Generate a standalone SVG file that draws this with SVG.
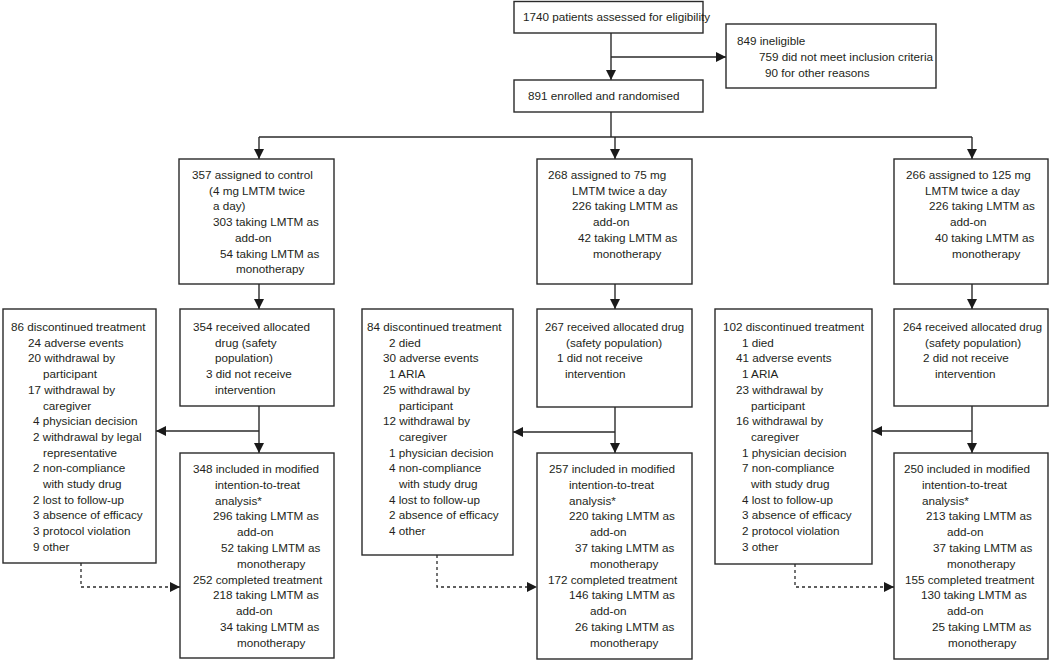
<svg xmlns="http://www.w3.org/2000/svg" width="1050" height="661" viewBox="0 0 1050 661">
<style>
.box{fill:#fff;stroke:#2a2a2a;stroke-width:1.4}
.ln{fill:none;stroke:#2a2a2a;stroke-width:1.4}
.dash{fill:none;stroke:#2a2a2a;stroke-width:1.3;stroke-dasharray:3,3}
text{font-family:"Liberation Sans",Arial,sans-serif;font-size:11.7px;fill:#231f20}
</style>
<defs>
<marker id="ah" viewBox="0 0 10 10" refX="10" refY="5" markerWidth="10" markerHeight="10" markerUnits="userSpaceOnUse" orient="auto">
<path d="M0,0 L10,5 L0,10 Z" fill="#1a1a1a"/>
</marker>
</defs>
<rect width="1050" height="661" fill="#fff"/>
<g id="connectors">
<line class="ln" x1="611" y1="33" x2="611" y2="80" marker-end="url(#ah)"/>
<line class="ln" x1="611" y1="57" x2="726" y2="57" marker-end="url(#ah)"/>
<line class="ln" x1="611" y1="112" x2="611" y2="137"/>
<line class="ln" x1="259" y1="137" x2="972" y2="137"/>
<line class="ln" x1="259" y1="137" x2="259" y2="159" marker-end="url(#ah)"/>
<line class="ln" x1="615" y1="137" x2="615" y2="159" marker-end="url(#ah)"/>
<line class="ln" x1="972" y1="137" x2="972" y2="159" marker-end="url(#ah)"/>
<line class="ln" x1="259" y1="284" x2="259" y2="309" marker-end="url(#ah)"/>
<line class="ln" x1="615" y1="284" x2="615" y2="309" marker-end="url(#ah)"/>
<line class="ln" x1="972" y1="284" x2="972" y2="309" marker-end="url(#ah)"/>
<line class="ln" x1="259" y1="406" x2="259" y2="453" marker-end="url(#ah)"/>
<line class="ln" x1="259" y1="431" x2="156" y2="431" marker-end="url(#ah)"/>
<line class="ln" x1="615" y1="407" x2="615" y2="453" marker-end="url(#ah)"/>
<line class="ln" x1="615" y1="432" x2="513" y2="432" marker-end="url(#ah)"/>
<line class="ln" x1="972" y1="406" x2="972" y2="453" marker-end="url(#ah)"/>
<line class="ln" x1="972" y1="431" x2="872" y2="431" marker-end="url(#ah)"/>
<polyline class="dash" points="81,563 81,587 180,587" marker-end="url(#ah)"/>
<polyline class="dash" points="437,555 437,587 537,587" marker-end="url(#ah)"/>
<polyline class="dash" points="795,564 795,587 894,587" marker-end="url(#ah)"/>
</g>
<g id="assessed">
<rect class="box" x="514" y="1.5" width="189" height="31.5"/>
<text x="523" y="21">1740 patients assessed for eligibility</text>
</g>
<g id="ineligible">
<rect class="box" x="726" y="24" width="210" height="64"/>
<text x="737" y="45">849 ineligible</text>
<text x="759" y="61">759 did not meet inclusion criteria</text>
<text x="765" y="76.5">90 for other reasons</text>
</g>
<g id="enrolled">
<rect class="box" x="514" y="80" width="189" height="32"/>
<text x="528" y="100">891 enrolled and randomised</text>
</g>
<g id="control">
<rect class="box" x="179" y="159" width="155" height="125"/>
<text x="192" y="179">357 assigned to control</text>
<text x="209" y="194.7">(4 mg LMTM twice</text>
<text x="213" y="210.4">a day)</text>
<text x="213" y="226.1">303 taking LMTM as</text>
<text x="235" y="241.8">add-on</text>
<text x="220" y="257.5">54 taking LMTM as</text>
<text x="236" y="273.2">monotherapy</text>
</g>
<g id="dose75">
<rect class="box" x="537" y="159" width="155" height="125"/>
<text x="548" y="179">268 assigned to 75 mg</text>
<text x="572" y="194.7">LMTM twice a day</text>
<text x="572" y="210.4">226 taking LMTM as</text>
<text x="593" y="226.1">add-on</text>
<text x="578" y="241.8">42 taking LMTM as</text>
<text x="593" y="257.5">monotherapy</text>
</g>
<g id="dose125">
<rect class="box" x="894" y="159" width="154" height="125"/>
<text x="906" y="179">266 assigned to 125 mg</text>
<text x="925" y="194.7">LMTM twice a day</text>
<text x="929" y="210.4">226 taking LMTM as</text>
<text x="950" y="226.1">add-on</text>
<text x="935" y="241.8">40 taking LMTM as</text>
<text x="952" y="257.5">monotherapy</text>
</g>
<g id="discL">
<rect class="box" x="3" y="309" width="153" height="254"/>
<text x="11" y="331">86 discontinued treatment</text>
<text x="28" y="346.7">24 adverse events</text>
<text x="28" y="362.4">20 withdrawal by</text>
<text x="43" y="378.1">participant</text>
<text x="28" y="393.8">17 withdrawal by</text>
<text x="43" y="409.5">caregiver</text>
<text x="33" y="425.2">4 physician decision</text>
<text x="33" y="440.9">2 withdrawal by legal</text>
<text x="43" y="456.6">representative</text>
<text x="33" y="472.3">2 non-compliance</text>
<text x="43" y="488">with study drug</text>
<text x="33" y="503.7">2 lost to follow-up</text>
<text x="33" y="519.4">3 absence of efficacy</text>
<text x="33" y="535.1">3 protocol violation</text>
<text x="33" y="550.8">9 other</text>
</g>
<g id="recvL">
<rect class="box" x="180" y="309" width="154" height="97"/>
<text x="193" y="331">354 received allocated</text>
<text x="215" y="346.7">drug (safety</text>
<text x="215" y="362.4">population)</text>
<text x="206" y="378.1">3 did not receive</text>
<text x="215" y="393.8">intervention</text>
</g>
<g id="inclL">
<rect class="box" x="180" y="453" width="154" height="205"/>
<text x="193" y="473">348 included in modified</text>
<text x="215" y="488.8">intention-to-treat</text>
<text x="215" y="504.6">analysis*</text>
<text x="213" y="520.4">296 taking LMTM as</text>
<text x="237" y="536.2">add-on</text>
<text x="221" y="552">52 taking LMTM as</text>
<text x="237" y="567.8">monotherapy</text>
<text x="193" y="583.6">252 completed treatment</text>
<text x="213" y="599.4">218 taking LMTM as</text>
<text x="236" y="615.2">add-on</text>
<text x="220" y="631">34 taking LMTM as</text>
<text x="237" y="646.8">monotherapy</text>
</g>
<g id="discM">
<rect class="box" x="362" y="309" width="151" height="246"/>
<text x="367" y="331">84 discontinued treatment</text>
<text x="389" y="346.7">2 died</text>
<text x="383" y="362.4">30 adverse events</text>
<text x="389" y="378.1">1 ARIA</text>
<text x="383" y="393.8">25 withdrawal by</text>
<text x="399" y="409.5">participant</text>
<text x="383" y="425.2">12 withdrawal by</text>
<text x="399" y="440.9">caregiver</text>
<text x="389" y="456.6">1 physician decision</text>
<text x="389" y="472.3">4 non-compliance</text>
<text x="399" y="488">with study drug</text>
<text x="389" y="503.7">4 lost to follow-up</text>
<text x="389" y="519.4">2 absence of efficacy</text>
<text x="389" y="535.1">4 other</text>
</g>
<g id="recvM">
<rect class="box" x="537" y="309" width="155" height="98"/>
<text x="545" y="331" textLength="139" lengthAdjust="spacingAndGlyphs">267 received allocated drug</text>
<text x="566" y="346.7">(safety population)</text>
<text x="557" y="362.4">1 did not receive</text>
<text x="565" y="378.1">intervention</text>
</g>
<g id="inclM">
<rect class="box" x="537" y="453" width="155" height="206"/>
<text x="549" y="473">257 included in modified</text>
<text x="569" y="488.8">intention-to-treat</text>
<text x="569" y="504.6">analysis*</text>
<text x="569" y="520.4">220 taking LMTM as</text>
<text x="590" y="536.2">add-on</text>
<text x="575" y="552">37 taking LMTM as</text>
<text x="590" y="567.8">monotherapy</text>
<text x="548" y="583.6">172 completed treatment</text>
<text x="569" y="599.4">146 taking LMTM as</text>
<text x="590" y="615.2">add-on</text>
<text x="575" y="631">26 taking LMTM as</text>
<text x="590" y="646.8">monotherapy</text>
</g>
<g id="discR">
<rect class="box" x="715" y="309" width="157" height="255"/>
<text x="723" y="331">102 discontinued treatment</text>
<text x="742" y="346.7">1 died</text>
<text x="736" y="362.4">41 adverse events</text>
<text x="742" y="378.1">1 ARIA</text>
<text x="736" y="393.8">23 withdrawal by</text>
<text x="751" y="409.5">participant</text>
<text x="736" y="425.2">16 withdrawal by</text>
<text x="751" y="440.9">caregiver</text>
<text x="742" y="456.6">1 physician decision</text>
<text x="742" y="472.3">7 non-compliance</text>
<text x="751" y="488">with study drug</text>
<text x="742" y="503.7">4 lost to follow-up</text>
<text x="742" y="519.4">3 absence of efficacy</text>
<text x="742" y="535.1">2 protocol violation</text>
<text x="742" y="550.8">3 other</text>
</g>
<g id="recvR">
<rect class="box" x="894" y="309" width="154" height="97"/>
<text x="903" y="331" textLength="139" lengthAdjust="spacingAndGlyphs">264 received allocated drug</text>
<text x="925" y="346.7">(safety population)</text>
<text x="923" y="362.4">2 did not receive</text>
<text x="935" y="378.1">intervention</text>
</g>
<g id="inclR">
<rect class="box" x="894" y="453" width="154" height="206"/>
<text x="904" y="473">250 included in modified</text>
<text x="922" y="488.8">intention-to-treat</text>
<text x="922" y="504.6">analysis*</text>
<text x="926" y="520.4">213 taking LMTM as</text>
<text x="947" y="536.2">add-on</text>
<text x="933" y="552">37 taking LMTM as</text>
<text x="947" y="567.8">monotherapy</text>
<text x="905" y="583.6">155 completed treatment</text>
<text x="921" y="599.4">130 taking LMTM as</text>
<text x="947" y="615.2">add-on</text>
<text x="932" y="631">25 taking LMTM as</text>
<text x="948" y="646.8">monotherapy</text>
</g>
</svg>
